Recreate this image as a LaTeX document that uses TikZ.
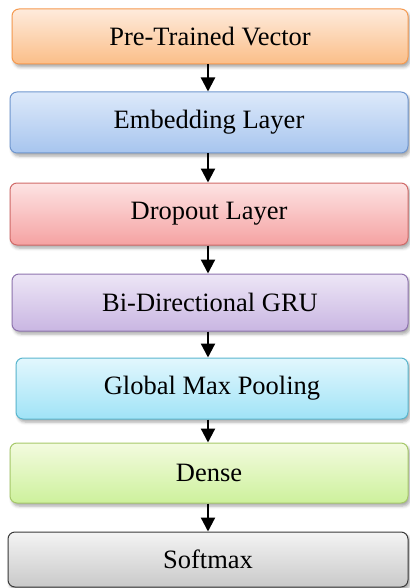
\documentclass[tikz,border=0pt]{standalone}
\usepackage{fontspec}
\setmainfont{Liberation Serif}
\usetikzlibrary{arrows.meta,shadows.blur}

% layer colours: top of gradient, bottom of gradient, border
\definecolor{orTop}{HTML}{FEEBDC}\definecolor{orBot}{HTML}{FBBE88}\definecolor{orLine}{HTML}{F59A50}
\definecolor{blTop}{HTML}{DDE9FA}\definecolor{blBot}{HTML}{A7C5EE}\definecolor{blLine}{HTML}{7097CF}
\definecolor{rdTop}{HTML}{FDE3E3}\definecolor{rdBot}{HTML}{F5A2A2}\definecolor{rdLine}{HTML}{D06A68}
\definecolor{puTop}{HTML}{EDE6F6}\definecolor{puBot}{HTML}{C9B6E2}\definecolor{puLine}{HTML}{8E74AE}
\definecolor{cyTop}{HTML}{E2F7FD}\definecolor{cyBot}{HTML}{A0E3F7}\definecolor{cyLine}{HTML}{5AB6CE}
\definecolor{grTop}{HTML}{F3FBDF}\definecolor{grBot}{HTML}{CDF19C}\definecolor{grLine}{HTML}{A6C86A}
\definecolor{gyTop}{HTML}{F4F4F4}\definecolor{gyBot}{HTML}{C9C9C9}\definecolor{gyLine}{HTML}{3A3A3A}

\tikzset{
  layer/.style n args={3}{
    draw=#3, line width=1pt, rounded corners=7pt,
    top color=#1, bottom color=#2,
    font=\fontsize{26.5}{30}\selectfont, text=black,
    blur shadow={shadow xshift=2pt, shadow yshift=-3pt, shadow blur radius=3pt, shadow opacity=35},
    inner sep=0pt
  },
  flow/.style={line width=2.2pt, -{Triangle[length=14pt,width=14pt]}}
}

\begin{document}
\begin{tikzpicture}[x=1pt,y=-1pt]
  \useasboundingbox (0,0) rectangle (409,588);

  \node[layer={orTop}{orBot}{orLine}, minimum width=396pt, minimum height=55pt] (pre)  at (210,36.5)  {Pre-Trained Vector};
  \node[layer={blTop}{blBot}{blLine}, minimum width=398pt, minimum height=61pt] (emb)  at (209,122.5) {Embedding Layer};
  \node[layer={rdTop}{rdBot}{rdLine}, minimum width=398pt, minimum height=62pt] (drop) at (209,214)   {Dropout Layer};
  \node[layer={puTop}{puBot}{puLine}, minimum width=396pt, minimum height=57pt] (gru)  at (210,302.5) {Bi-Directional GRU};
  \node[layer={cyTop}{cyBot}{cyLine}, minimum width=392pt, minimum height=61pt] (pool) at (212,388.5) {Global Max Pooling};
  \node[layer={grTop}{grBot}{grLine}, minimum width=398pt, minimum height=60pt] (dense) at (209,473)  {Dense};
  \node[layer={gyTop}{gyBot}{gyLine}, minimum width=400pt, minimum height=55pt] (soft) at (208,559.5) {Softmax};

  % vertical axis shared by all connectors
  \coordinate (ax) at (208,0);
  \draw[flow] (pre.south -| ax)   -- (emb.north -| ax);
  \draw[flow] (emb.south -| ax)   -- (drop.north -| ax);
  \draw[flow] (drop.south -| ax)  -- (gru.north -| ax);
  \draw[flow] (gru.south -| ax)   -- (pool.north -| ax);
  \draw[flow] (pool.south -| ax)  -- (dense.north -| ax);
  \draw[flow] (dense.south -| ax) -- (soft.north -| ax);
\end{tikzpicture}
\end{document}
